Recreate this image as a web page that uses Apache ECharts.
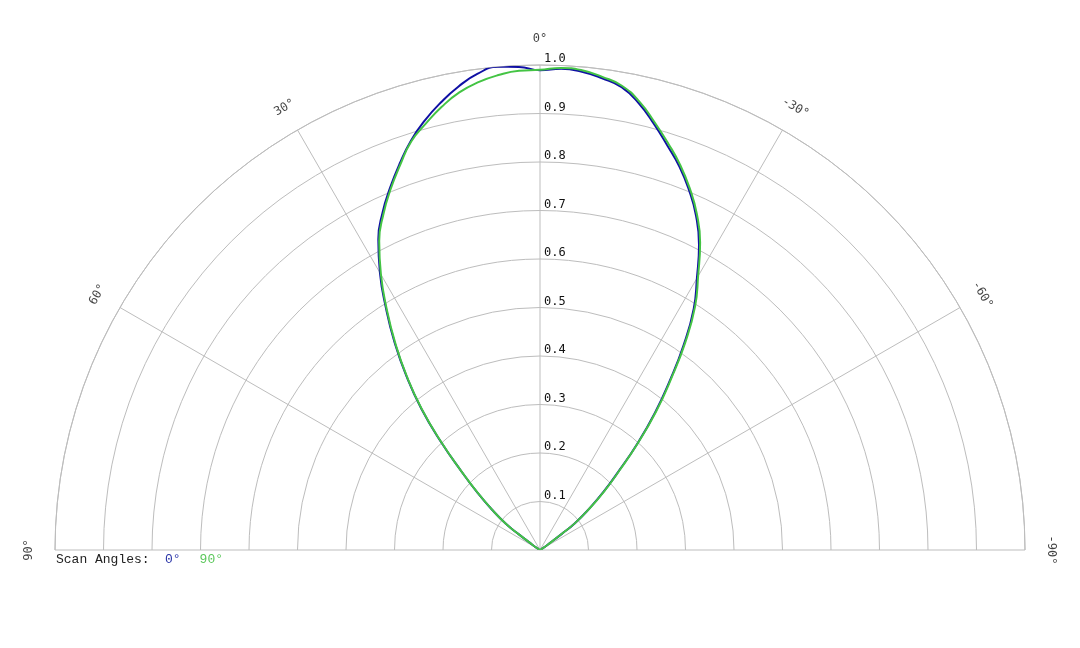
<!DOCTYPE html>
<html>
<head>
<meta charset="utf-8">
<title>Scan Angles</title>
<script src="https://cdn.jsdelivr.net/npm/echarts@6/dist/echarts.min.js"></script>
<style>
    html,body{margin:0;padding:0;background:#fff;}
    #main{width:1080px;height:648px;}
</style>
</head>
<body>
<div id="main"></div>
<script>
//角度 (度), 0 在正上方, 左正右负
var angles = [-90,-75,-60,-57.5,-55,-53.5,-52.5,-50,-47.5,-45,-42.5,-40,-37.5,-35,-32.5,-30,-27.5,-25,-22.5,-20,-17.5,-15,-12.5,-10,-7.5,-5,-2.5,0,
              2.5,5,7.5,10,12.5,15,17.5,20,22.5,25,27.5,30,32.5,35,37.5,40,42.5,45,47.5,50,52.5,53.5,55,57.5,60,75,90];
//扫描角 0°
var scan0 = [0,0,0,0.005,0.02,0.056,0.09,0.132,0.178,0.228,0.296,0.368,0.439,0.517,0.590,0.647,0.710,0.761,0.803,0.841,0.874,0.909,0.943,0.969,0.981,0.990,0.993,0.989,
             0.997,1.0,0.990,0.970,0.945,0.917,0.885,0.847,0.808,0.768,0.722,0.660,0.591,0.523,0.453,0.381,0.302,0.229,0.175,0.129,0.088,0.055,0.02,0.005,0,0,0];
//扫描角 90°
var scan90 = [0,0,0,0.005,0.02,0.057,0.091,0.133,0.180,0.231,0.298,0.372,0.443,0.522,0.595,0.652,0.715,0.765,0.807,0.845,0.879,0.913,0.947,0.972,0.984,0.993,0.995,0.990,
              0.989,0.983,0.973,0.958,0.936,0.910,0.883,0.844,0.805,0.764,0.718,0.656,0.588,0.520,0.451,0.379,0.300,0.228,0.174,0.128,0.088,0.055,0.02,0.005,0,0,0];
var angleTicks = [-90,-60,-30,0,30,60,90];
var radiusTicks = ['0.1','0.2','0.3','0.4','0.5','0.6','0.7','0.8','0.9','1.0'];

var gridColor = '#bdbdbd';
var blue = '#1010a4';
var green = '#44c444';

function toPolar(vals){
    var arr = [];
    angles.forEach(function(a,i){
        arr.push([vals[i], a]);
    })
    return arr;
}

//角度标签
var angleLabelData = [];
angleTicks.forEach(function(a){
    angleLabelData.push({value:[1.053, a], label:{rotate:a}});
})

var myChart = echarts.init(document.getElementById('main'));
var option = {
    animation: false,
    backgroundColor: '#fff',
    title: {
        text: 'Scan Angles:',
        left: 56,
        top: 553,
        padding: 0,
        textStyle: {fontFamily:'Liberation Mono', fontSize:13, fontWeight:'normal', color:'#222'}
    },
    legend: {
        left: 160,
        top: 553,
        padding: 0,
        icon: 'none',
        itemWidth: 0,
        itemGap: 14,
        selectedMode: false,
        textStyle: {fontFamily:'Liberation Mono', fontSize:13},
        data: [
            {name:'0°', textStyle:{color:'#2a35a8'}},
            {name:'90°', textStyle:{color:'#5cc85c'}}
        ]
    },
    polar: [
        {center:[540,550], radius:485},
        {center:[540,550], radius:485}
    ],
    angleAxis: [{
        polarIndex: 0,
        type: 'value',
        min: -90,
        max: 90,
        interval: 30,
        startAngle: 0,
        endAngle: 180,
        clockwise: false,
        axisLine: {show:true, lineStyle:{color:gridColor, width:1}},
        axisTick: {show:false},
        axisLabel: {show:false},
        splitLine: {show:true, lineStyle:{color:gridColor, width:1}}
    },{
        polarIndex: 1,
        type: 'value',
        min: 0,
        max: 360,
        startAngle: 90,
        show: false
    }],
    radiusAxis: [{
        polarIndex: 0,
        min: 0,
        max: 1,
        interval: 0.1,
        axisLine: {show:false},
        axisTick: {show:false},
        axisLabel: {show:false},
        splitLine: {show:true, lineStyle:{color:gridColor, width:1}}
    },{
        polarIndex: 1,
        min: 0,
        max: 1,
        interval: 0.1,
        axisLine: {show:false},
        axisTick: {show:false},
        splitLine: {show:false},
        axisLabel: {
            show: true,
            margin: -4,
            align: 'left',
            verticalAlign: 'bottom',
            fontFamily: 'DejaVu Sans Mono',
            fontSize: 12,
            color: '#111',
            formatter: function(v){
                var i = Math.round(v*10);
                return i > 0 ? radiusTicks[i-1] : '';
            }
        }
    }],
    series: [{
        name: '0°',
        type: 'line',
        coordinateSystem: 'polar',
        polarIndex: 0,
        smooth: true,
        showSymbol: false,
        clip: false,
        lineStyle: {color:blue, width:2},
        itemStyle: {color:blue},
        data: toPolar(scan0)
    },{
        name: '90°',
        type: 'line',
        coordinateSystem: 'polar',
        polarIndex: 0,
        smooth: true,
        showSymbol: false,
        clip: false,
        lineStyle: {color:green, width:2},
        itemStyle: {color:green},
        data: toPolar(scan90)
    },{
        name: 'angleLabels',
        type: 'scatter',
        coordinateSystem: 'polar',
        polarIndex: 0,
        clip: false,
        symbolSize: 1,
        silent: true,
        itemStyle: {color:'rgba(0,0,0,0)'},
        label: {
            show: true,
            position: 'inside',
            fontFamily: 'DejaVu Sans Mono',
            fontSize: 12,
            color: '#111',
            formatter: function(p){
                return p.value[1] + '°';
            }
        },
        data: angleLabelData
    }]
};
myChart.setOption(option);
</script>
</body>
</html>
